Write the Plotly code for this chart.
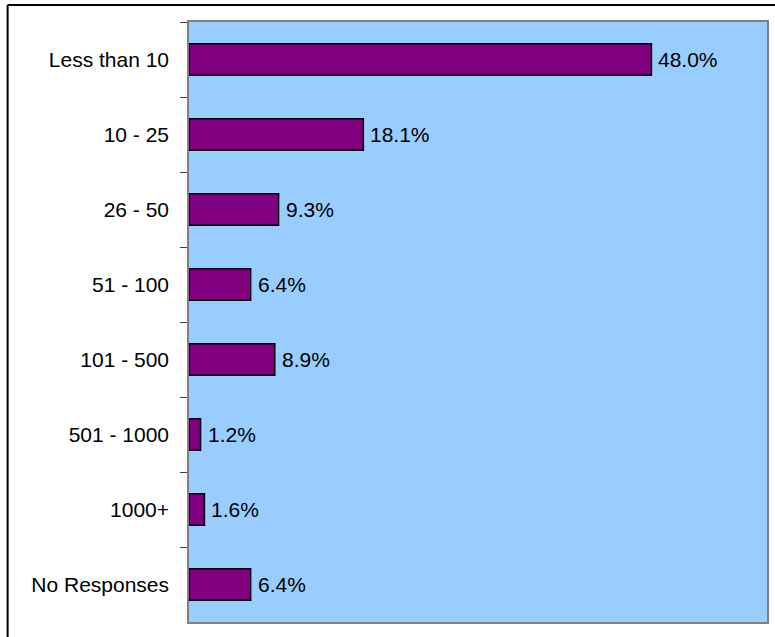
import plotly.graph_objects as go

categories = ["Less than 10", "10 - 25", "26 - 50", "51 - 100", "101 - 500", "501 - 1000", "1000+", "No Responses"]
values = [48.0, 18.1, 9.3, 6.4, 8.9, 1.2, 1.6, 6.4]
labels = [f"{v:.1f}%" for v in values]

W, H = 775, 637
ml, mr, mt, mb = 189, 6, 22, 15
pw, ph = W - ml - mr, H - mt - mb
FONT = "Liberation Sans, Arial, sans-serif"

fig = go.Figure(go.Bar(
    x=values, y=categories, orientation="h",
    marker=dict(color="#800080", line=dict(color="#000000", width=1.5)),
    width=0.42,
))

for c, v, t in zip(categories, values, labels):
    fig.add_annotation(x=v, y=c, text=t, showarrow=False, xanchor="left", yanchor="middle",
                       xshift=5, font=dict(family=FONT, size=21, color="#000000"))

def px_x(p):
    return (p - ml) / pw

def px_y(p):
    return 1 - (p - mt) / ph

fig.update_layout(
    width=W, height=H,
    margin=dict(l=ml, r=mr, t=mt, b=mb),
    paper_bgcolor="#ffffff", plot_bgcolor="#99CCFF",
    showlegend=False,
    font=dict(family=FONT, size=21, color="#000000"),
    xaxis=dict(range=[0, 60], showgrid=False, zeroline=False, showticklabels=False, ticks="",
               showline=True, linecolor="#808080", linewidth=1.5, mirror=True, fixedrange=True),
    yaxis=dict(categoryorder="array", categoryarray=categories, autorange="reversed",
               showgrid=False, zeroline=False, ticks="outside", tickson="boundaries", ticklen=7,
               tickcolor="#404040", tickwidth=1, ticklabelstandoff=14,
               showline=True, linecolor="#808080", linewidth=1.5, mirror=True),
    shapes=[
        dict(type="line", xref="paper", yref="paper", x0=px_x(7), x1=px_x(W + 5), y0=px_y(5), y1=px_y(5),
             line=dict(color="#000000", width=2)),
        dict(type="line", xref="paper", yref="paper", x0=px_x(7), x1=px_x(7), y0=px_y(5), y1=px_y(H + 5),
             line=dict(color="#000000", width=2)),
    ],
)

fig.write_html("out.html")
